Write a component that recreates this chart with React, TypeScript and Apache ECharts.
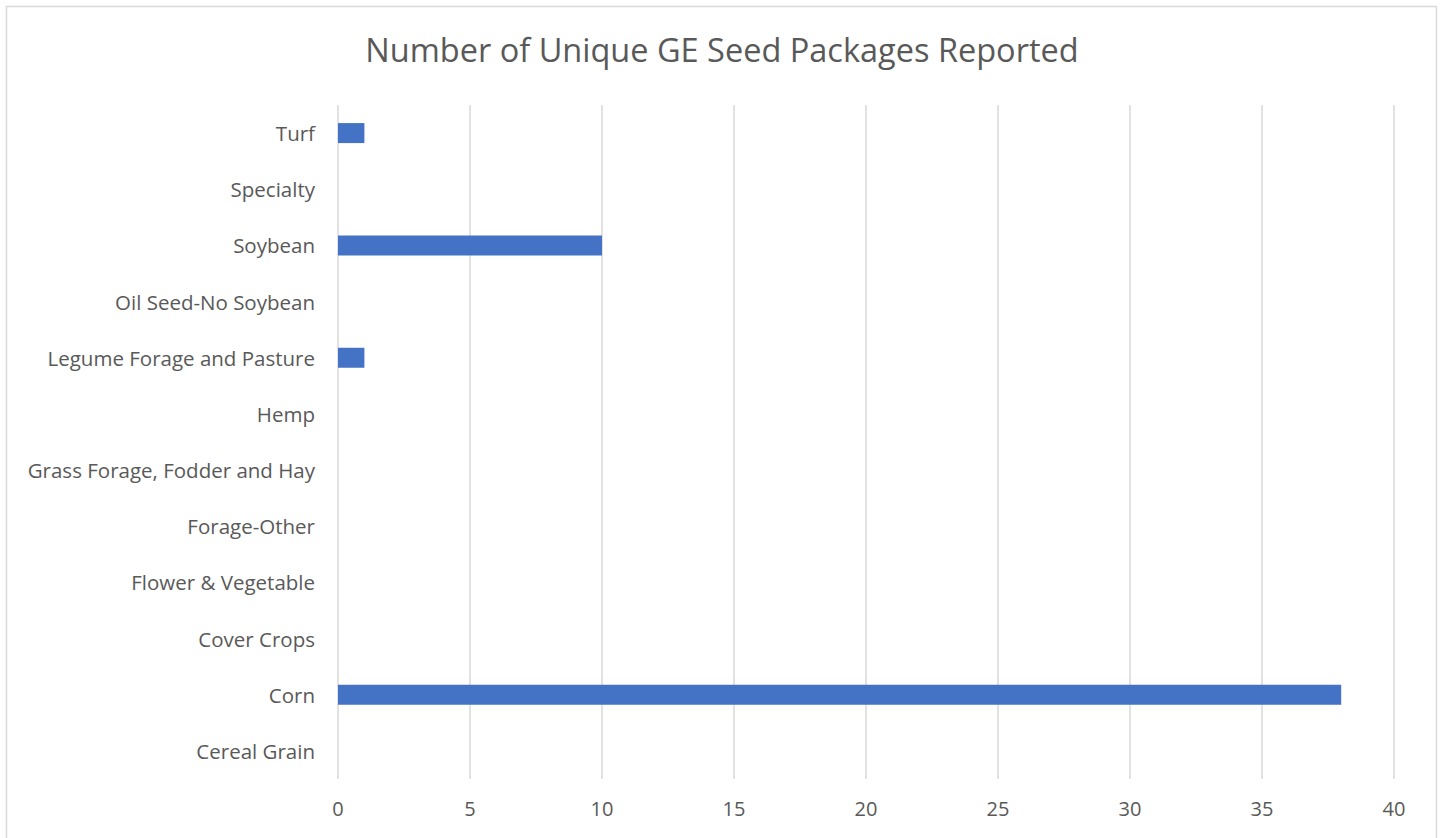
import React, { useEffect, useRef } from "react";
import * as echarts from "echarts";

const categories = [
  "Cereal Grain",
  "Corn",
  "Cover Crops",
  "Flower & Vegetable",
  "Forage-Other",
  "Grass Forage, Fodder and Hay",
  "Hemp",
  "Legume Forage and Pasture",
  "Oil Seed-No Soybean",
  "Soybean",
  "Specialty",
  "Turf",
];
const values = [0, 38, 0, 0, 0, 0, 0, 1, 0, 10, 0, 1];
const xTicks = [0, 5, 10, 15, 20, 25, 30, 35, 40];

export default function App() {
  const ref = useRef<HTMLDivElement>(null);
  useEffect(() => {
    document.body.style.margin = "0";
    const chart = echarts.init(ref.current!, null, { renderer: "svg" });
    const font = "'Open Sans', 'Noto Sans', sans-serif";
    chart.setOption({
      animation: false,
      backgroundColor: "#ffffff",
      title: {
        text: "Number of Unique GE Seed Packages Reported",
        left: "center",
        top: 28,
        textStyle: { fontFamily: font, fontSize: 32.5, fontWeight: "normal", color: "#595959" },
      },
      graphic: [
        {
          type: "rect",
          shape: { x: 6.5, y: 6.5, width: 1430, height: 840 },
          style: { fill: "none", stroke: "#d9d9d9", lineWidth: 1.5 },
          silent: true,
        },
      ],
      grid: { left: 338, right: 50, top: 105, bottom: 59, containLabel: false },
      xAxis: {
        type: "value",
        min: xTicks[0],
        max: xTicks[xTicks.length - 1],
        interval: 5,
        axisLine: { show: false },
        axisTick: { show: false },
        splitLine: { show: true, lineStyle: { color: "#d9d9d9", width: 1.5 } },
        axisLabel: { fontFamily: font, fontSize: 20, color: "#595959", margin: 19 },
      },
      yAxis: {
        type: "category",
        data: categories,
        axisLine: { show: false },
        axisTick: { show: false },
        axisLabel: { fontFamily: font, fontSize: 20.5, color: "#595959", margin: 23 },
      },
      series: [
        {
          type: "bar",
          data: values,
          barWidth: 20,
          itemStyle: { color: "#4472C4" },
        },
      ],
    });
    return () => chart.dispose();
  }, []);
  return <div ref={ref} style={{ width: 1444, height: 838 }} />;
}
